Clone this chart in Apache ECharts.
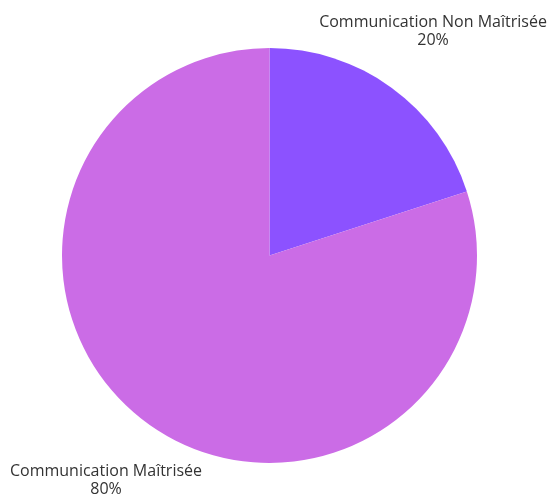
<!DOCTYPE html>
<html>
<head>
<meta charset="utf-8">
<script src="https://cdn.jsdelivr.net/npm/echarts@6/dist/echarts.min.js"></script>
<style>
  html, body { margin: 0; padding: 0; background: #ffffff; }
  #chart { width: 550px; height: 498px; }
</style>
</head>
<body>
<div id="chart"></div>
<script>
// Share of communication skills
const categories = ['Communication Non Maîtrisée', 'Communication Maîtrisée'];
const values = [20, 80];
const colors = ['#8c52ff', '#cb6ce6'];

// Where each slice's caption sits (centre of the text block)
const labelSpots = [[433, 31], [106, 480]];

const chart = echarts.init(document.getElementById('chart'), null, { renderer: 'canvas' });

chart.setOption({
  animation: false,
  backgroundColor: '#ffffff',
  series: [{
    type: 'pie',
    center: [269.5, 255.5],
    radius: [0, 207.5],
    startAngle: 90,
    clockwise: true,
    color: colors,
    data: categories.map((name, i) => ({ name, value: values[i] })),
    itemStyle: { borderWidth: 0 },
    emphasis: { disabled: true },
    label: {
      show: true,
      position: 'outside',
      formatter: '{b}\n{d}%',
      fontFamily: 'Open Sans',
      fontSize: 16,
      lineHeight: 18,
      color: '#333333',
      align: 'center',
      overflow: 'none',
      width: 400
    },
    labelLine: { show: false },
    labelLayout: function (params) {
      const p = labelSpots[params.dataIndex];
      return { x: p[0], y: p[1], align: 'center', verticalAlign: 'middle' };
    }
  }]
});
</script>
</body>
</html>
